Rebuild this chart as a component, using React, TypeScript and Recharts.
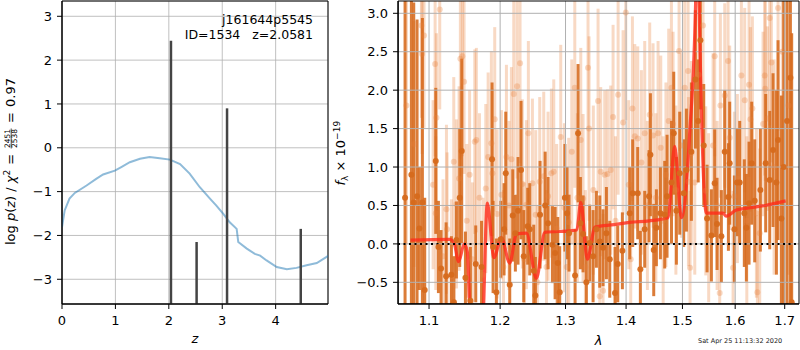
import React from 'react';
import {
  ComposedChart,
  Line,
  Scatter,
  ErrorBar,
  XAxis,
  YAxis,
  CartesianGrid,
  ReferenceLine,
  ReferenceArea,
} from 'recharts';

// ---------- left panel: log p(z) ----------
const pzZ = [0, 0.05, 0.14, 0.24, 0.46, 0.64, 0.77, 0.99, 1.11, 1.27, 1.46, 1.64, 1.83, 2.02, 2.21, 2.39, 2.58, 2.77, 2.89, 3.02, 3.14, 3.27, 3.30, 3.46, 3.61, 3.71, 3.83, 4.02, 4.21, 4.39, 4.58, 4.77, 4.99];
const pzLog = [-1.81, -1.43, -1.16, -1.03, -0.86, -0.71, -0.61, -0.52, -0.44, -0.33, -0.25, -0.21, -0.24, -0.27, -0.37, -0.59, -0.90, -1.16, -1.32, -1.51, -1.70, -1.85, -2.15, -2.30, -2.42, -2.46, -2.57, -2.72, -2.77, -2.74, -2.68, -2.63, -2.46];
const peakZ = [2.04, 2.52, 3.09, 4.47];
const peakTop = [2.44, -2.15, 0.9, -1.85];
const zTicks = [0, 1, 2, 3, 4];
const pTicks = [-3, -2, -1, 0, 1, 2, 3];

// ---------- right panel: spectrum ----------
const darkWave = [1.0682, 1.0765, 1.0796, 1.0840, 1.0871, 1.0911, 1.0942, 1.1091, 1.1127, 1.1163, 1.1232, 1.1305, 1.1340, 1.1375, 1.1421, 1.1449, 1.1501, 1.1571, 1.1647, 1.1730, 1.1882, 1.1897, 1.1945, 1.2009, 1.2058, 1.2083, 1.2142, 1.2187, 1.2226, 1.2266, 1.2311, 1.2352, 1.2412, 1.2443, 1.2504, 1.2529, 1.2601, 1.2680, 1.2725, 1.2793, 1.2835, 1.2877, 1.2908, 1.2990, 1.3024, 1.3056, 1.3153, 1.3201, 1.3239, 1.3282, 1.3336, 1.3391, 1.3446, 1.3501, 1.3556, 1.3611, 1.3667, 1.3723, 1.3812, 1.3858, 1.3937, 1.4063, 1.4114, 1.4201, 1.4247, 1.4323, 1.4399, 1.4423, 1.4482, 1.4529, 1.4601, 1.4678, 1.4720, 1.4800, 1.4841, 1.4889, 1.4950, 1.5023, 1.5073, 1.5165, 1.5240, 1.5290, 1.5333, 1.5396, 1.5459, 1.5541, 1.5604, 1.5649, 1.5732, 1.5797, 1.5868, 1.5893, 1.5985, 1.6037, 1.6089, 1.6180, 1.6221, 1.6274, 1.6327, 1.6387, 1.6501, 1.6609, 1.6691, 1.6759, 1.6828, 1.6862, 1.6931, 1.6979, 1.7049, 1.7119, 1.7146];
const darkFlux = [0.6, 0.9, 0.54, 0.62, 0.2, 0.54, -0.6, 1.08, -0.04, -0.32, -0.42, -0.4, -0.76, 0.05, 0.6, 1.21, -0.44, -0.74, -0.26, -0.3, 1.1, -0.04, -0.63, 0.06, 0.19, 0.92, -0.53, 0.37, 0.14, 0.43, 0.96, -0.16, 0.23, 0.19, -0.35, -0.67, 0.38, 0.5, 0.27, -0.01, -0.12, -0.25, -0.63, 0.6, 0.4, 0.14, -0.41, 1.44, 0.27, 0.13, -0.5, 0.01, -0.16, 0.19, 0.03, -0.05, 0.14, -0.2, -0.64, -0.26, -0.09, 0.4, 0.66, 0.66, -0.33, 0.19, 0.62, 1.16, -0.08, 0.21, 0.4, 0.38, 0.62, 0.8, 1.44, 0.43, 0.92, 0.66, 0.96, 1.2, 2.14, 1.6, 2.65, 1.28, 0.33, 0.11, 0.79, 0.26, 0.1, 1.2, 0.61, 1.05, 0.19, 0.8, 0.8, 0.4, 0.21, 0.53, 1.05, 0.56, 0.7, 1.05, 0.83, 1.22, 0.8, 1.35, 0.33, 1.0, 1.6, 2.16, -0.76];
const darkErr = [4.5, 3.5, 2.6, 2.3, 0.8, 2.4, 1.2, 0.95, 0.6, 0.5, 0.7, 0.5, 0.6, 0.5, 0.9, 1.2, 0.6, 0.7, 0.5, 0.6, 1.0, 0.6, 0.7, 0.5, 0.6, 0.8, 0.6, 0.6, 0.5, 0.7, 0.9, 0.6, 0.5, 0.6, 0.6, 0.5, 0.7, 0.7, 0.6, 0.5, 0.6, 0.6, 0.6, 0.7, 0.6, 0.5, 0.6, 0.9, 0.6, 0.5, 0.6, 0.5, 0.6, 0.5, 0.6, 0.5, 0.6, 0.5, 0.6, 0.5, 0.5, 0.6, 0.7, 0.6, 0.5, 0.5, 0.6, 0.8, 0.6, 0.5, 0.6, 0.7, 0.8, 0.8, 0.8, 0.7, 0.8, 0.7, 0.8, 0.9, 0.9, 0.8, 0.9, 0.8, 0.7, 0.6, 0.7, 0.6, 0.6, 0.8, 0.7, 0.8, 0.7, 0.7, 0.8, 0.7, 0.7, 0.8, 0.8, 0.8, 0.8, 0.9, 0.9, 1.0, 1.2, 1.3, 1.6, 3.5, 4.0, 4.0, 3.5];

const lightWave = [1.0700, 1.0800, 1.0898, 1.0907, 1.0933, 1.1055, 1.1082, 1.1091, 1.1100, 1.1145, 1.1190, 1.1237, 1.1246, 1.1305, 1.1338, 1.1375, 1.1412, 1.1430, 1.1458, 1.1482, 1.1520, 1.1560, 1.1600, 1.1633, 1.1656, 1.1700, 1.1750, 1.1791, 1.1825, 1.1872, 1.1887, 1.1921, 1.1955, 1.2019, 1.2050, 1.2093, 1.2130, 1.2167, 1.2202, 1.2251, 1.2296, 1.2331, 1.2360, 1.2392, 1.2422, 1.2484, 1.2534, 1.2560, 1.2596, 1.2658, 1.2700, 1.2725, 1.2777, 1.2814, 1.2860, 1.2924, 1.2982, 1.3020, 1.3051, 1.3100, 1.3148, 1.3190, 1.3245, 1.3282, 1.3320, 1.3363, 1.3380, 1.3450, 1.3528, 1.3556, 1.3572, 1.3611, 1.3639, 1.3684, 1.3740, 1.3779, 1.3820, 1.3864, 1.3949, 1.3995, 1.4046, 1.4080, 1.4109, 1.4150, 1.4201, 1.4265, 1.4323, 1.4370, 1.4411, 1.4470, 1.4520, 1.4559, 1.4607, 1.4650, 1.4700, 1.4750, 1.4799, 1.4829, 1.4880, 1.4938, 1.4981, 1.5042, 1.5104, 1.5110, 1.5140, 1.5165, 1.5228, 1.5300, 1.5383, 1.5434, 1.5490, 1.5573, 1.5604, 1.5650, 1.5700, 1.5713, 1.5797, 1.5861, 1.5893, 1.5959, 1.5985, 1.6043, 1.6122, 1.6188, 1.6230, 1.6274, 1.6301, 1.6341, 1.6421, 1.6441, 1.6488, 1.6555, 1.6589, 1.6600, 1.6644, 1.6691, 1.6725, 1.6780, 1.6862, 1.6950, 1.7080];
const lightFlux = [1.8, 1.3, 2.84, 2.47, 2.71, 0.77, 2.34, 0.4, 1.64, 3.05, -0.16, 0.45, 0.19, -0.42, 1.07, 0.52, 0.85, 2.41, 2.44, 2.11, 0.3, 0.9, -0.2, 1.33, 1.35, 0.6, -0.4, 0.72, 1.13, 1.31, 0.92, 1.62, 0.39, 0.64, -0.3, 1.13, 0.5, 1.1, 1.95, 2.05, 2.35, 0.78, -0.2, 0.51, 1.44, 0.79, 0.38, -0.5, 0.81, 0.88, -0.3, 0.62, 0.92, 0.94, 0.2, 1.39, 0.47, -0.3, 0.28, 1.2, 2.03, 0.6, 1.35, 0.59, -0.3, 2.29, 1.5, 0.7, 1.86, -0.68, 0.94, -0.61, 0.9, 0.91, 0.96, 1.65, 0.3, 1.94, 1.58, 3.01, 0.77, -0.2, 1.76, 1.4, 1.37, 1.06, 1.44, 0.5, 1.68, 1.41, 0.6, 1.44, 1.25, 0.3, 0.9, 1.6, 2.03, 1.56, 0.7, 2.51, 1.28, 2.03, 2.25, 0.81, -0.31, 1.18, 0.8, 2.2, 2.84, 0.69, 0.34, 1.28, 2.44, 0.5, -0.64, 1.8, 1.93, 2.38, 1.38, -0.31, 0.62, 0.85, 2.19, 1.87, 0.3, 2.07, 1.62, 1.76, 0.4, -0.63, 0.14, 1.56, 2.19, 2.02, 1.63, 2.94, 2.36, 1.0, 3.07, 2.5, 1.8];
const lightErr = [1.8, 1.6, 1.2, 1.3, 1.2, 1.1, 1.2, 1.0, 1.1, 1.3, 1.0, 1.1, 1.0, 1.0, 1.1, 1.1, 1.2, 1.3, 1.3, 1.2, 1.0, 1.1, 1.0, 1.2, 1.2, 1.1, 1.0, 1.1, 1.1, 1.2, 1.1, 1.2, 1.1, 1.1, 1.0, 1.2, 1.1, 1.2, 1.3, 1.2, 1.3, 1.1, 1.0, 1.1, 1.2, 1.1, 1.1, 1.0, 1.1, 1.1, 1.0, 1.1, 1.1, 1.2, 1.1, 1.2, 1.1, 1.0, 1.1, 1.2, 1.3, 1.1, 1.2, 1.1, 1.0, 1.3, 1.2, 1.1, 1.2, 1.0, 1.1, 1.0, 1.1, 1.1, 1.1, 1.2, 1.1, 1.3, 1.2, 1.4, 1.1, 1.0, 1.2, 1.2, 1.2, 1.2, 1.2, 1.1, 1.2, 1.2, 1.1, 1.2, 1.2, 1.1, 1.2, 1.2, 1.3, 1.2, 1.1, 1.3, 1.2, 1.3, 1.3, 1.1, 1.0, 1.2, 1.2, 1.4, 1.3, 1.1, 1.1, 1.2, 1.3, 1.1, 1.0, 1.2, 1.2, 1.3, 1.2, 1.0, 1.1, 1.1, 1.2, 1.2, 1.1, 1.2, 1.2, 1.2, 1.1, 1.0, 1.1, 1.2, 1.3, 1.2, 1.2, 1.4, 1.3, 1.4, 1.6, 2.0, 2.2];

const modelWave = [1.0754, 1.1279, 1.1340, 1.1406, 1.1485, 1.1527, 1.1583, 1.1737, 1.1813, 1.1909, 1.2019, 1.2142, 1.2242, 1.2392, 1.2545, 1.2674, 1.3073, 1.3181, 1.3245, 1.3352, 1.3479, 1.3800, 1.4062, 1.4400, 1.4737, 1.4858, 1.4982, 1.5135, 1.5246, 1.5277, 1.5308, 1.5446, 1.5763, 1.5824, 1.6024, 1.6300, 1.6600, 1.7020];
const modelFlux = [0.05, 0.06, 0.02, -0.23, 0.0, -0.1, -1.2, -1.2, 0.53, -0.18, 0.08, -0.25, 0.13, 0.14, -0.45, 0.15, 0.17, 0.18, 0.54, -0.2, 0.22, 0.25, 0.28, 0.3, 0.34, 1.27, 0.34, 1.46, 3.2, 4.5, 3.2, 0.4, 0.4, 0.36, 0.44, 0.47, 0.5, 0.56];

const lamTicks = [1.1, 1.2, 1.3, 1.4, 1.5, 1.6, 1.7];
const fTicks = [-0.5, 0, 0.5, 1.0, 1.5, 2.0, 2.5, 3.0];

const FONT = "'DejaVu Sans', sans-serif";
const tickStyle = { fill: '#000', fontSize: 13, fontFamily: FONT };
const neg = (s: string) => s.replace('-', '\u2212');
const fmtInt = (v: number) => neg(String(v));
const fmt1 = (v: number) => neg(v.toFixed(1));

const DARK = '#d66a1c';
const LIGHT = '#e8803a';
const GRID = '#b0b0b0';

const darkDot = (p: any) => <circle cx={p.cx} cy={p.cy} r={3} fill={DARK} fillOpacity={0.95} />;
const lightDot = (p: any) => <circle cx={p.cx} cy={p.cy} r={3} fill={LIGHT} fillOpacity={0.3} />;

const zDom: [number, number] = [0, 4.98];
const pDom: [number, number] = [-3.564, 3.349];
const lDom: [number, number] = [1.059, 1.73];
const fDom: [number, number] = [-0.782, 3.16];
const rightMargin = { top: 1, right: 1, bottom: 16, left: 358 };

export default function App() {
  const pzData = pzZ.map((z, i) => ({ z, v: pzLog[i] }));
  const peakData = peakZ.map((z, i) => [
    { z, v: -4 },
    { z, v: peakTop[i] },
  ]);
  const dark = darkWave.map((x, i) => ({ x, y: darkFlux[i], e: darkErr[i] }));
  const light = lightWave.map((x, i) => ({ x, y: lightFlux[i], e: lightErr[i] }));
  const model = modelWave.map((x, i) => ({ x, y: modelFlux[i] }));

  const xAxisR = (
    <XAxis dataKey="x" type="number" scale="log" domain={lDom} ticks={lamTicks} allowDataOverflow height={30}
      tickSize={5} tickMargin={7} tick={tickStyle} stroke="#000" tickFormatter={fmt1} />
  );
  const yAxisR = (
    <YAxis dataKey="y" type="number" domain={fDom} ticks={fTicks} allowDataOverflow width={40}
      tickSize={5} tickMargin={5} tick={tickStyle} stroke="#000" tickFormatter={fmt1} />
  );

  return (
    <div style={{ position: 'absolute', left: 0, top: 0, width: 800, height: 350, background: '#fff' }}>
      {/* left panel */}
      <div style={{ position: 'absolute', left: 0, top: 0 }}>
        <ComposedChart width={800} height={350} margin={{ top: 1, right: 472, bottom: 16, left: 22 }}>
          <CartesianGrid stroke={GRID} strokeWidth={0.8} />
          <XAxis dataKey="z" type="number" domain={zDom} ticks={zTicks} allowDataOverflow height={30}
            tickSize={5} tickMargin={7} tick={tickStyle} stroke="#000" tickFormatter={fmtInt} />
          <YAxis type="number" domain={pDom} ticks={pTicks} allowDataOverflow width={40}
            tickSize={5} tickMargin={5} tick={tickStyle} stroke="#000" tickFormatter={fmtInt} />
          <Line data={pzData} dataKey="v" type="linear" stroke="#1f77b4" strokeOpacity={0.5} strokeWidth={2}
            dot={false} isAnimationActive={false} />
          {peakData.map((d, i) => (
            <Line key={i} data={d} dataKey="v" type="linear" stroke="#444" strokeWidth={2.5}
              dot={false} isAnimationActive={false} />
          ))}
          <ReferenceArea x1={zDom[0]} x2={zDom[1]} y1={pDom[0]} y2={pDom[1]} fill="none" fillOpacity={0}
            stroke="#000" strokeWidth={1} ifOverflow="visible" />
        </ComposedChart>
      </div>
      {/* right panel: data layer, clipped to the plot area */}
      <div style={{ position: 'absolute', left: 0, top: 0, clipPath: 'inset(1px 1px 46px 398px)' }}>
        <ComposedChart width={800} height={350} margin={rightMargin}>
          {xAxisR}
          {yAxisR}
          <Scatter data={light} shape={lightDot} isAnimationActive={false}>
            <ErrorBar dataKey="e" direction="y" width={0} stroke={LIGHT} strokeOpacity={0.3} strokeWidth={3} isAnimationActive={false} />
          </Scatter>
          <Scatter data={dark} shape={darkDot} isAnimationActive={false}>
            <ErrorBar dataKey="e" direction="y" width={0} stroke={DARK} strokeOpacity={0.88} strokeWidth={3} isAnimationActive={false} />
          </Scatter>
          {lamTicks.map((t) => (
            <ReferenceLine key={'gx' + t} x={t} stroke={GRID} strokeWidth={1} />
          ))}
          {fTicks.map((t) => (
            <ReferenceLine key={'gy' + t} y={t} stroke={GRID} strokeWidth={1} />
          ))}
          <Line data={model} dataKey="y" type="monotone" stroke="#ff2a1a" strokeOpacity={0.8} strokeWidth={3.2}
            dot={false} isAnimationActive={false} />
          <ReferenceLine y={0} stroke="#000" strokeWidth={2} strokeDasharray="2 3.5" />
        </ComposedChart>
      </div>
      {/* right panel: axes and frame */}
      <div style={{ position: 'absolute', left: 0, top: 0 }}>
        <ComposedChart width={800} height={350} margin={rightMargin}>
          {xAxisR}
          {yAxisR}
          <ReferenceArea x1={lDom[0]} x2={lDom[1]} y1={fDom[0]} y2={fDom[1]} fill="none" fillOpacity={0}
            stroke="#000" strokeWidth={1} ifOverflow="visible" />
        </ComposedChart>
      </div>
      <svg width={800} height={350} style={{ position: 'absolute', left: 0, top: 0, pointerEvents: 'none' }}
        fontFamily={FONT} fill="#000">
        <text x={313} y={24} textAnchor="end" fontSize={12.5}>j161644p5545</text>
        <text x={313} y={39} textAnchor="end" fontSize={12.5} style={{ whiteSpace: 'pre' }}>{'ID=1534   z=2.0581'}</text>
        <text x={195} y={343} textAnchor="middle" fontSize={13} fontStyle="italic">z</text>
        <text x={598.5} y={344.5} textAnchor="middle" fontSize={13} fontStyle="italic">λ</text>
        <text x={698} y={342.5} fontSize={6.5} fill="#222">Sat Apr 25 11:13:32 2020</text>
        <g transform="translate(14.5,159) rotate(-90)" fontSize={13}>
          <text x={-86} y={0}>
            log <tspan fontStyle="italic">p</tspan>(<tspan fontStyle="italic">z</tspan>) / <tspan fontStyle="italic">χ</tspan>
            <tspan fontSize={9} dy={-5}>2</tspan>
          </text>
          <text x={-5.7} y={0}>=</text>
          <text x={20.5} y={-4.5} fontSize={7.5} textAnchor="middle">2451</text>
          <line x1={10.5} x2={30.5} y1={-3.3} y2={-3.3} stroke="#000" strokeWidth={0.7} />
          <text x={20.5} y={2.5} fontSize={7.5} textAnchor="middle">2538</text>
          <text x={36} y={0}>=</text>
          <text x={52} y={0}>0.97</text>
        </g>
        <g transform="translate(344.5,153.5) rotate(-90)" fontSize={13}>
          <text x={-32} y={0}>
            <tspan fontStyle="italic">f</tspan>
            <tspan fontSize={9} dy={3}>λ</tspan>
            <tspan dy={-3}> × 10</tspan>
            <tspan fontSize={9} dy={-5}>−19</tspan>
          </text>
        </g>
      </svg>
    </div>
  );
}
